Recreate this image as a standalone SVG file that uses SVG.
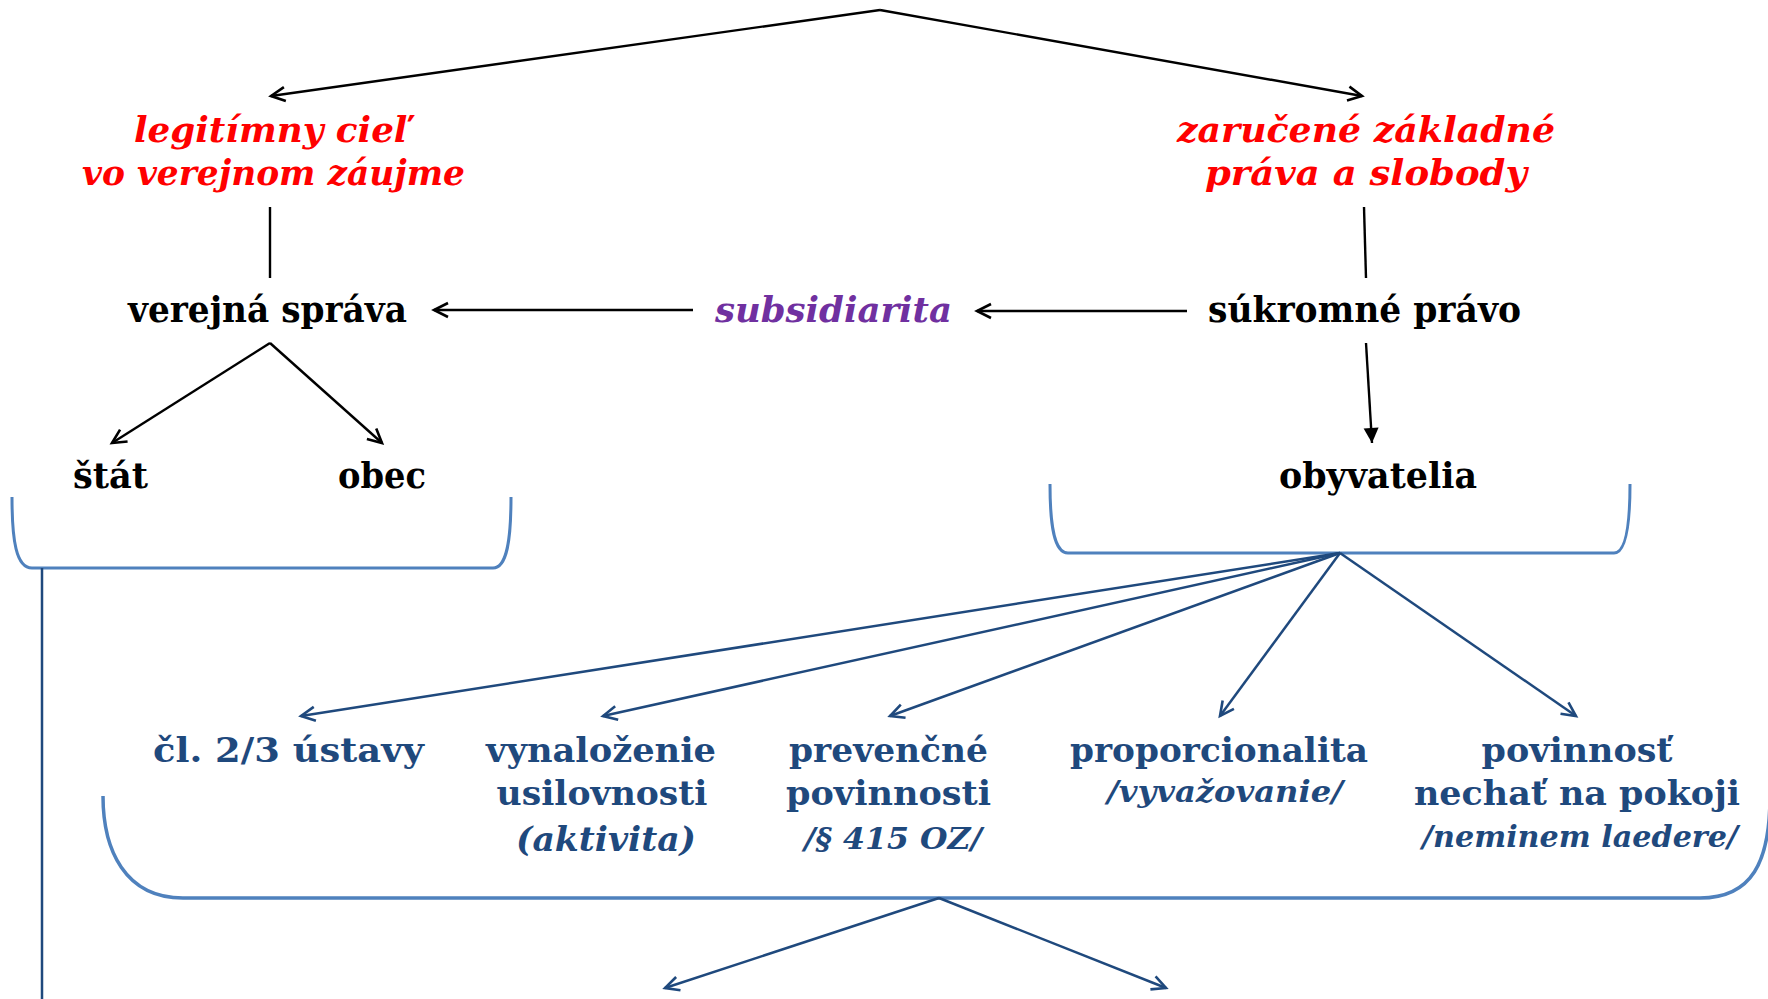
<svg xmlns="http://www.w3.org/2000/svg" width="1768" height="999" viewBox="0 0 1768 999">
<style>
text{font-family:"DejaVu Serif","Liberation Serif",serif;font-weight:bold;text-anchor:middle}
.red{fill:#FF0000;font-style:italic;font-size:36px}
.blk{fill:#000;font-size:35px}
.pur{fill:#7030A0;font-style:italic;font-size:36px}
.blu{fill:#1F497D;font-size:34px}
.bit{fill:#1F497D;font-style:italic;font-size:30px}
.cb{stroke:#000;stroke-width:2.4;fill:none}
.cu{stroke:#1F497D;stroke-width:2.5;fill:none}
.br{stroke:#4F81BD;stroke-width:3;fill:none}
</style>
<defs>
<marker id="ab" markerUnits="userSpaceOnUse" viewBox="-16 -10 20 20" markerWidth="20" markerHeight="20" refX="0" refY="0" orient="auto">
<path d="M-14,-7 L0,0 L-14,7" fill="none" stroke="#000" stroke-width="2.6"/>
</marker>
<marker id="abf" markerUnits="userSpaceOnUse" viewBox="-16 -10 20 20" markerWidth="20" markerHeight="20" refX="0" refY="0" orient="auto">
<path d="M-15,-7.5 L0,0 L-15,7.5 Z" fill="#000"/>
</marker>
<marker id="au" markerUnits="userSpaceOnUse" viewBox="-16 -10 20 20" markerWidth="20" markerHeight="20" refX="0" refY="0" orient="auto">
<path d="M-14,-7 L0,0 L-14,7" fill="none" stroke="#1F497D" stroke-width="2.6"/>
</marker>
</defs>
<rect width="1768" height="999" fill="#fff"/>

<g id="brackets">
<path class="br" d="M12,497 C12,540 16,568 32,568 L493,568 C507,568 511,540 511,497"/>
<path class="br" d="M1050,484 C1050,525 1054,553 1068,553 L1614,553 C1626,553 1630,525 1630,484"/>
<path class="br" style="stroke-width:3.5" d="M103,796 C103,850 125,898 183,898 L1700,898 C1752,898 1770,862 1770,796"/>
</g>

<g id="connectors">
<path class="cb" d="M880,10 L271,96" marker-end="url(#ab)"/>
<path class="cb" d="M880,10 L1362,96" marker-end="url(#ab)"/>
<path class="cb" d="M270,207 L270,278"/>
<path class="cb" d="M1364,207 L1366,278"/>
<path class="cb" d="M693,310 L434,310" marker-end="url(#ab)"/>
<path class="cb" d="M1187,311 L977,311" marker-end="url(#ab)"/>
<path class="cb" d="M270,343 L112,443" marker-end="url(#ab)"/>
<path class="cb" d="M270,343 L382,443" marker-end="url(#ab)"/>
<path class="cb" d="M1366,343 L1372,443" marker-end="url(#abf)"/>
<path class="cu" d="M42,568 L42,999"/>
<path class="cu" d="M1340,553 L301,716" marker-end="url(#au)"/>
<path class="cu" d="M1340,553 L603,716" marker-end="url(#au)"/>
<path class="cu" d="M1340,553 L890,716" marker-end="url(#au)"/>
<path class="cu" d="M1340,553 L1220,716" marker-end="url(#au)"/>
<path class="cu" d="M1340,553 L1576,716" marker-end="url(#au)"/>
<path class="cu" d="M939,898 L665,988" marker-end="url(#au)"/>
<path class="cu" d="M939,898 L1166,988" marker-end="url(#au)"/>
</g>

<g id="legitimny-ciel">
<text class="red" x="273" y="142" textLength="278" lengthAdjust="spacingAndGlyphs">legitímny cieľ</text>
<text class="red" x="273.5" y="185" textLength="383" lengthAdjust="spacingAndGlyphs">vo verejnom záujme</text>
</g>
<g id="zarucene-prava">
<text class="red" x="1366" y="142" textLength="378" lengthAdjust="spacingAndGlyphs">zaručené základné</text>
<text class="red" x="1366" y="185" textLength="322" lengthAdjust="spacingAndGlyphs">práva a slobody</text>
</g>
<g id="verejna-sprava">
<text class="blk" x="267.5" y="322" textLength="279" lengthAdjust="spacingAndGlyphs">verejná správa</text>
</g>
<g id="subsidiarita">
<text class="pur" x="833.5" y="322" textLength="237" lengthAdjust="spacingAndGlyphs">subsidiarita</text>
</g>
<g id="sukromne-pravo">
<text class="blk" x="1364.5" y="322" textLength="313" lengthAdjust="spacingAndGlyphs">súkromné právo</text>
</g>
<g id="stat">
<text class="blk" x="110.5" y="488" textLength="75" lengthAdjust="spacingAndGlyphs">štát</text>
</g>
<g id="obec">
<text class="blk" x="382" y="488" textLength="88" lengthAdjust="spacingAndGlyphs">obec</text>
</g>
<g id="obyvatelia">
<text class="blk" x="1378" y="488" textLength="198" lengthAdjust="spacingAndGlyphs">obyvatelia</text>
</g>
<g id="clanok">
<text class="blu" x="288.5" y="762" textLength="271" lengthAdjust="spacingAndGlyphs">čl. 2/3 ústavy</text>
</g>
<g id="vynalozenie">
<text class="blu" x="601" y="762" textLength="230" lengthAdjust="spacingAndGlyphs">vynaloženie</text>
<text class="blu" x="602" y="805" textLength="211" lengthAdjust="spacingAndGlyphs">usilovnosti</text>
<text class="blu" x="606" y="851" style="font-style:italic" textLength="180" lengthAdjust="spacingAndGlyphs">(aktivita)</text>
</g>
<g id="prevencne">
<text class="blu" x="888.5" y="762" textLength="199" lengthAdjust="spacingAndGlyphs">prevenčné</text>
<text class="blu" x="888.5" y="805" textLength="205" lengthAdjust="spacingAndGlyphs">povinnosti</text>
<text class="bit" x="893" y="849" textLength="178" lengthAdjust="spacingAndGlyphs">/§ 415 OZ/</text>
</g>
<g id="proporcionalita">
<text class="blu" x="1219" y="762" textLength="298" lengthAdjust="spacingAndGlyphs">proporcionalita</text>
<text class="bit" x="1225" y="802" textLength="236" lengthAdjust="spacingAndGlyphs">/vyvažovanie/</text>
</g>
<g id="povinnost">
<text class="blu" x="1577" y="762" textLength="191" lengthAdjust="spacingAndGlyphs">povinnosť</text>
<text class="blu" x="1577" y="805" textLength="326" lengthAdjust="spacingAndGlyphs">nechať na pokoji</text>
<text class="bit" x="1580" y="847" textLength="316" lengthAdjust="spacingAndGlyphs">/neminem laedere/</text>
</g>
</svg>
